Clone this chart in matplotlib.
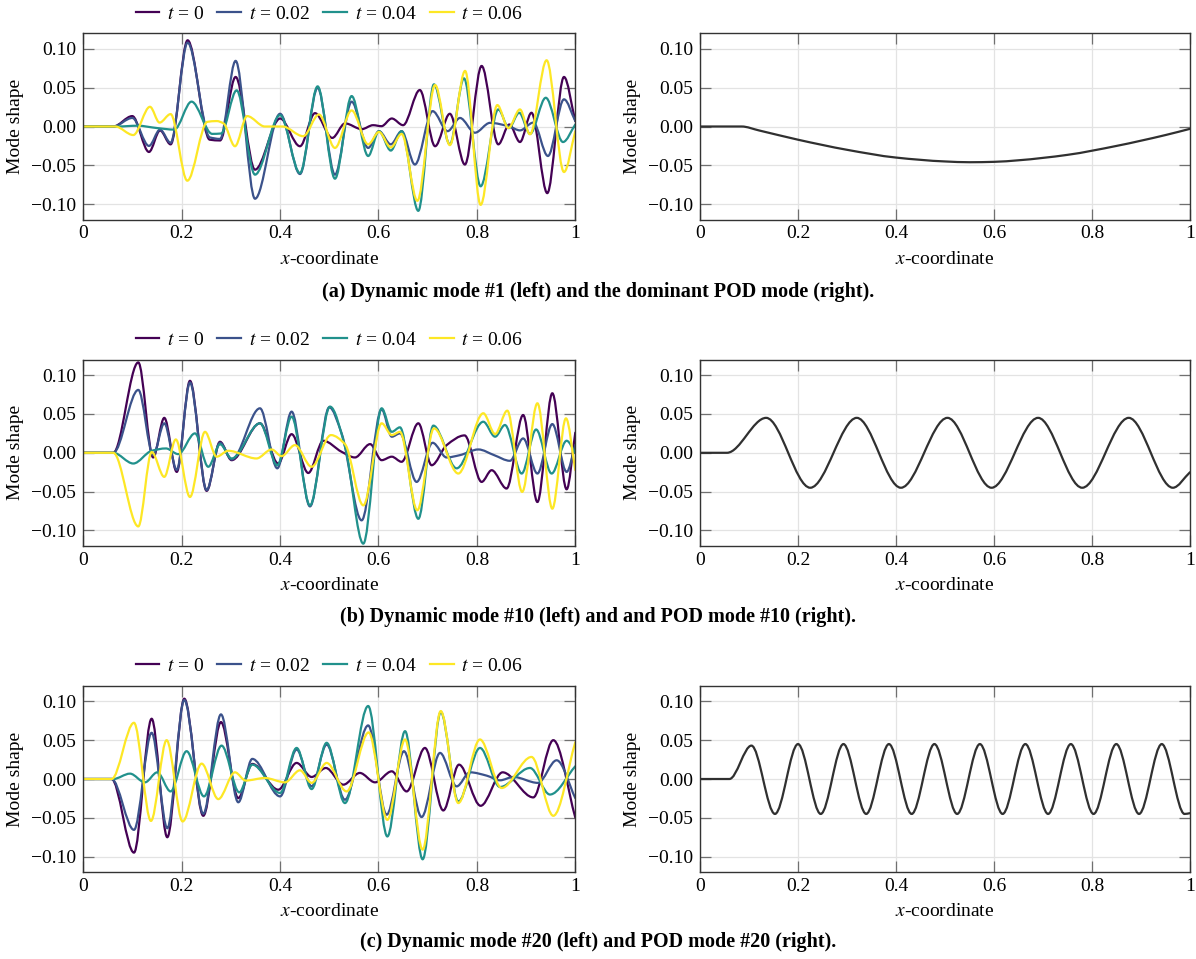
import numpy as np
import matplotlib
matplotlib.use('Agg')
import matplotlib.pyplot as plt
from matplotlib.path import Path
from matplotlib.patches import PathPatch
from matplotlib.lines import Line2D

# ---- data (local extrema / shape points) ----
labels = ["$t$ = 0", "$t$ = 0.02", "$t$ = 0.04", "$t$ = 0.06"]
colors = ["#440154", "#3b528b", "#21918c", "#fde725"]

# (a) dynamic mode #1
a_t0_x = [0, 0.061, 0.0996, 0.1335, 0.156, 0.1775, 0.212, 0.257, 0.278, 0.3096, 0.349, 0.400, 0.4404, 0.4709, 0.506, 0.532, 0.566, 0.589, 0.606, 0.627, 0.650, 0.684, 0.715, 0.745, 0.7756, 0.8096, 0.8435, 0.866, 0.8875, 0.911, 0.943, 0.977, 1.0]
a_t0_y = [0, 0, 0.0134, -0.0328, -0.005, -0.023, 0.111, -0.017, -0.018, 0.0638, -0.0556, 0.0103, -0.0254, 0.0172, -0.0147, 0.004, -0.0034, 0.0017, 0.0004, 0.0103, 0.0017, 0.047, -0.0254, 0.0164, -0.049, 0.078, -0.023, 0.0026, -0.020, 0.0177, -0.0858, 0.0638, 0.007]
a_t1_x = [0, 0.061, 0.0996, 0.1335, 0.156, 0.1775, 0.212, 0.257, 0.278, 0.3096, 0.349, 0.400, 0.4404, 0.4763, 0.5115, 0.5454, 0.579, 0.601, 0.625, 0.647, 0.674, 0.710, 0.7405, 0.7656, 0.796, 0.8266, 0.866, 0.8875, 0.9146, 0.9444, 0.977, 1.0]
a_t1_y = [0, 0, 0.011, -0.025, -0.004, -0.021, 0.108, -0.014, -0.016, 0.0845, -0.093, 0.0164, -0.0612, 0.050, -0.062, 0.032, -0.0276, -0.006, -0.023, -0.006, -0.049, 0.0198, -0.006, 0.011, -0.008, 0.0047, 0.0, -0.005, 0.005, -0.038, 0.035, 0.007]
a_t2_x = [0, 0.07, 0.11, 0.15, 0.185, 0.22, 0.262, 0.28, 0.3117, 0.349, 0.400, 0.4404, 0.4763, 0.5115, 0.5454, 0.579, 0.601, 0.625, 0.647, 0.6809, 0.7127, 0.745, 0.7737, 0.8076, 0.8435, 0.865, 0.886, 0.9079, 0.94, 0.975, 1.0]
a_t2_y = [0, 0, 0.001, -0.002, -0.004, 0.032, -0.0095, -0.009, 0.0466, -0.062, 0.0147, -0.060, 0.0517, -0.0672, 0.0392, -0.038, -0.006, -0.031, -0.006, -0.1086, 0.0543, -0.023, 0.062, -0.077, 0.022, -0.002, 0.0177, -0.0095, 0.037, -0.020, 0.0026]
a_t3_x = [0, 0.065, 0.1016, 0.1355, 0.155, 0.1775, 0.2114, 0.252, 0.271, 0.285, 0.3083, 0.333, 0.369, 0.405, 0.447, 0.479, 0.5115, 0.5454, 0.579, 0.601, 0.625, 0.647, 0.679, 0.715, 0.745, 0.776, 0.8076, 0.8415, 0.864, 0.8875, 0.9079, 0.9417, 0.977, 1.0]
a_t3_y = [0, 0, -0.011, 0.0254, 0.005, 0.016, -0.0698, 0.006, 0.007, 0.004, -0.0254, 0.0134, 0.0, 0.0, -0.0125, 0.0155, -0.0276, 0.0207, -0.023, -0.007, -0.027, -0.0095, -0.0957, 0.0534, -0.024, 0.0716, -0.1009, 0.0276, -0.002, 0.022, -0.010, 0.0853, -0.0586, -0.006]

# (b) dynamic mode #10
b_t0_x = [0, 0.061, 0.1118, 0.142, 0.1646, 0.19, 0.2168, 0.2507, 0.2778, 0.3015, 0.3591, 0.396, 0.4234, 0.4573, 0.4878, 0.525, 0.5521, 0.583, 0.6064, 0.627, 0.647, 0.681, 0.708, 0.7385, 0.775, 0.8096, 0.83, 0.8604, 0.894, 0.923, 0.9533, 0.9824, 1.0]
b_t0_y = [0, 0, 0.1164, -0.006, 0.045, -0.0246, 0.0927, -0.049, 0.0142, -0.0095, 0.038, -0.0138, 0.024, -0.026, 0.0155, 0.0013, -0.006, 0.0112, -0.0095, -0.005, -0.0116, 0.038, -0.016, 0.0099, 0.0224, -0.0375, -0.0224, -0.046, 0.0487, -0.0634, 0.0767, -0.047, 0.026]
b_t1_x = [0, 0.061, 0.1118, 0.142, 0.1646, 0.19, 0.2168, 0.2507, 0.2778, 0.3015, 0.3591, 0.3943, 0.4234, 0.4607, 0.5, 0.525, 0.5657, 0.6064, 0.627, 0.6436, 0.6775, 0.71, 0.7385, 0.7656, 0.803, 0.835, 0.8672, 0.894, 0.923, 0.9533, 0.9824, 1.0]
b_t1_y = [0, 0, 0.081, -0.003, 0.038, -0.022, 0.0905, -0.048, 0.013, -0.0086, 0.0573, -0.020, 0.053, -0.069, 0.0586, 0.025, -0.087, 0.056, 0.0207, 0.025, -0.0375, 0.0129, -0.006, -0.003, 0.0043, -0.003, -0.0103, 0.0185, -0.0267, 0.037, -0.0246, 0.0099]
b_t2_x = [0, 0.061, 0.1016, 0.139, 0.168, 0.193, 0.227, 0.254, 0.278, 0.3015, 0.3591, 0.3943, 0.4234, 0.4607, 0.5014, 0.532, 0.5691, 0.6064, 0.627, 0.6436, 0.681, 0.7114, 0.7588, 0.813, 0.837, 0.857, 0.891, 0.9203, 0.9519, 0.9824, 1.0]
b_t2_y = [0, 0, -0.0138, 0.0026, 0.0056, -0.0017, 0.025, -0.018, 0.011, -0.0073, 0.038, -0.016, 0.0466, -0.0677, 0.0595, 0.008, -0.117, 0.0573, 0.027, 0.0328, -0.085, 0.035, -0.020, 0.040, 0.0207, 0.0358, -0.0267, 0.030, -0.0267, 0.0155, 0.0]
b_t3_x = [0, 0.061, 0.1118, 0.139, 0.1646, 0.188, 0.2168, 0.2473, 0.271, 0.2947, 0.352, 0.3828, 0.403, 0.4302, 0.4641, 0.5034, 0.532, 0.5691, 0.6064, 0.627, 0.6436, 0.6789, 0.7127, 0.7622, 0.813, 0.837, 0.8618, 0.892, 0.923, 0.9533, 0.981, 1.0]
b_t3_y = [0, 0, -0.0948, 0.001, -0.031, 0.0172, -0.0569, 0.027, -0.005, 0.0026, -0.0073, 0.0043, -0.0043, 0.0099, -0.018, 0.0228, 0.011, -0.0677, 0.038, 0.0228, 0.027, -0.074, 0.0315, -0.0267, 0.0509, 0.0241, 0.0543, -0.0504, 0.0638, -0.072, 0.0444, -0.0224]

# (c) dynamic mode #20
c_t0_x = [0, 0.0576, 0.103, 0.1389, 0.1707, 0.2053, 0.2439, 0.2798, 0.315, 0.3435, 0.3963, 0.4336, 0.4641, 0.493, 0.5285, 0.562, 0.593, 0.627, 0.6572, 0.6944, 0.7317, 0.7636, 0.8076, 0.8523, 0.9146, 0.9553, 1.0]
c_t0_y = [0, 0, -0.0948, 0.0776, -0.075, 0.1034, -0.0474, 0.0733, -0.0246, 0.0194, -0.0138, 0.0207, 0.0026, 0.0142, -0.0073, 0.0078, -0.0043, 0.0099, -0.016, 0.040, -0.0405, 0.0185, -0.0345, 0.0086, -0.0237, 0.050, -0.0496]
c_t1_x = [0, 0.0576, 0.103, 0.1389, 0.1707, 0.2053, 0.2439, 0.2798, 0.315, 0.3435, 0.4, 0.4336, 0.4641, 0.4946, 0.5318, 0.579, 0.6166, 0.6518, 0.6876, 0.725, 0.7588, 0.7859, 0.82, 0.847, 0.874, 0.924, 0.9621, 1.0]
c_t1_y = [0, 0, -0.0655, 0.0595, -0.0634, 0.1017, -0.0448, 0.0832, -0.030, 0.0259, -0.0224, 0.038, -0.0095, 0.0444, -0.0267, 0.069, -0.046, 0.0358, -0.049, 0.0336, -0.0095, 0.0086, 0.0043, -0.0017, 0.0026, -0.005, 0.0241, -0.0246]
c_t2_x = [0, 0.061, 0.0949, 0.1253, 0.1504, 0.1775, 0.21, 0.2453, 0.281, 0.317, 0.3435, 0.4, 0.4336, 0.4641, 0.4946, 0.5318, 0.579, 0.618, 0.654, 0.6897, 0.7266, 0.7622, 0.8062, 0.847, 0.9079, 0.9485, 1.0]
c_t2_y = [0, 0, 0.0069, -0.0043, 0.0086, -0.016, 0.0358, -0.0224, 0.043, -0.0172, 0.0185, -0.018, 0.040, -0.013, 0.0466, -0.031, 0.094, -0.074, 0.0616, -0.1034, 0.0862, -0.029, 0.040, -0.0103, 0.0142, -0.020, 0.0164]
c_t3_x = [0, 0.0576, 0.103, 0.1375, 0.1694, 0.2019, 0.2405, 0.2744, 0.3083, 0.33, 0.3692, 0.4099, 0.4404, 0.4641, 0.4946, 0.5352, 0.58, 0.618, 0.654, 0.6897, 0.7266, 0.7622, 0.8062, 0.8503, 0.911, 0.9553, 1.0]
c_t3_y = [0, 0, 0.0724, -0.054, 0.050, -0.0547, 0.0198, -0.0259, 0.0086, -0.002, 0.0013, -0.0043, 0.0112, -0.005, 0.0207, -0.016, 0.060, -0.0526, 0.0509, -0.091, 0.0875, -0.031, 0.0509, -0.0116, 0.0284, -0.0474, 0.0474]

# POD modes (right column)
pod_a_x = [0, 0.05, 0.085, 0.12, 0.2, 0.3, 0.4, 0.5, 0.55, 0.6, 0.65, 0.75, 0.85, 0.95, 1.0]
pod_a_y = [0, 0, 0, -0.005, -0.017, -0.030, -0.040, -0.045, -0.046, -0.0455, -0.0435, -0.0365, -0.025, -0.011, -0.003]
pod_b_x = [0, 0.055, 0.135, 0.225, 0.32, 0.41, 0.505, 0.595, 0.69, 0.78, 0.875, 0.965, 1.0]
pod_b_y = [0, 0, 0.045, -0.045, 0.045, -0.045, 0.045, -0.045, 0.045, -0.045, 0.045, -0.045, -0.025]
pod_c_x = [0, 0.06, 0.105, 0.153, 0.2, 0.2464, 0.2928, 0.3392, 0.3856, 0.432, 0.4784, 0.5248, 0.5712, 0.6176, 0.664, 0.7104, 0.7568, 0.8032, 0.8496, 0.896, 0.9424, 0.9888, 1.0]
pod_c_y = [0, 0, 0.043, -0.045, 0.045, -0.045, 0.045, -0.045, 0.045, -0.045, 0.045, -0.045, 0.045, -0.045, 0.045, -0.045, 0.045, -0.045, 0.045, -0.045, 0.045, -0.045, -0.044]

captions = ["(a) Dynamic mode #1 (left) and the dominant POD mode (right).",
            "(b) Dynamic mode #10 (left) and and POD mode #10 (right).",
            "(c) Dynamic mode #20 (left) and POD mode #20 (right)."]

xticks = [0, 0.2, 0.4, 0.6, 0.8, 1]
xtick_labels = ["0", "0.2", "0.4", "0.6", "0.8", "1"]
yticks = [-0.10, -0.05, 0.0, 0.05, 0.10]
ytick_labels = ["\u22120.10", "\u22120.05", "0.00", "0.05", "0.10"]

plt.rcParams['font.family'] = ['Liberation Serif', 'DejaVu Serif']
plt.rcParams['mathtext.fontset'] = 'stix'


def smooth_path(xs, ys):
    # cubic Hermite (monotone tangents) drawn as Bezier segments
    x = np.asarray(xs, float)
    y = np.asarray(ys, float)
    h = np.diff(x)
    d = np.diff(y) / h
    m = np.zeros_like(x)
    for i in range(1, len(x) - 1):
        if d[i - 1] * d[i] > 0:
            w1 = 2 * h[i] + h[i - 1]
            w2 = h[i] + 2 * h[i - 1]
            m[i] = (w1 + w2) / (w1 / d[i - 1] + w2 / d[i])
    m[-1] = d[-1]
    verts = [(x[0], y[0])]
    codes = [Path.MOVETO]
    for i in range(len(h)):
        verts += [(x[i] + h[i] / 3, y[i] + m[i] * h[i] / 3),
                  (x[i + 1] - h[i] / 3, y[i + 1] - m[i + 1] * h[i] / 3),
                  (x[i + 1], y[i + 1])]
        codes += [Path.CURVE4] * 3
    return Path(verts, codes)


def style(ax):
    ax.set_xlim(0, 1)
    ax.set_ylim(-0.12, 0.12)
    ax.set_xticks(xticks)
    ax.set_xticklabels(xtick_labels)
    ax.set_yticks(yticks)
    ax.set_yticklabels(ytick_labels)
    ax.grid(True, color='#e3e3e3', lw=0.9)
    ax.set_axisbelow(True)
    ax.tick_params(direction='in', length=8, width=0.9, color='#707070',
                   top=True, right=True, labelsize=14)
    ax.tick_params(axis='x', pad=4)
    ax.tick_params(axis='y', pad=5)
    for s in ax.spines.values():
        s.set_color('#333333')
        s.set_linewidth(1.0)
    ax.set_xlabel('$x$-coordinate', fontsize=14, labelpad=6)
    ax.set_ylabel('Mode shape', fontsize=14, labelpad=5)


W, H = 1196, 959
fig = plt.figure(figsize=(W / 100, H / 100), dpi=100)

rows = [
    ([(a_t0_x, a_t0_y), (a_t1_x, a_t1_y), (a_t2_x, a_t2_y), (a_t3_x, a_t3_y)], (pod_a_x, pod_a_y), 219.7, 292),
    ([(b_t0_x, b_t0_y), (b_t1_x, b_t1_y), (b_t2_x, b_t2_y), (b_t3_x, b_t3_y)], (pod_b_x, pod_b_y), 546.0, 617),
    ([(c_t0_x, c_t0_y), (c_t1_x, c_t1_y), (c_t2_x, c_t2_y), (c_t3_x, c_t3_y)], (pod_c_x, pod_c_y), 872.2, 942),
]

ax_h = 186.4
for k, (dmd, pod, bottom_px, cap_px) in enumerate(rows):
    axl = fig.add_axes([83.3 / W, 1 - bottom_px / H, 492 / W, ax_h / H])
    axr = fig.add_axes([700 / W, 1 - bottom_px / H, 490 / W, ax_h / H])
    style(axl)
    style(axr)
    for (xs, ys), c in zip(dmd, colors):
        axl.add_patch(PathPatch(smooth_path(xs, ys), fill=False, edgecolor=c,
                                lw=1.6, joinstyle='round', capstyle='round'))
    axr.add_patch(PathPatch(smooth_path(*pod), fill=False, edgecolor='#303030',
                            lw=1.6, joinstyle='round', capstyle='round'))
    handles = [Line2D([], [], color=c, lw=1.6) for c in colors]
    axl.legend(handles, labels, loc='lower center', bbox_to_anchor=(0.5, 1.0),
               ncol=4, frameon=False, fontsize=14, handlelength=1.2,
               handletextpad=0.4, columnspacing=0.7, borderaxespad=0.15)
    fig.text(0.5, 1 - cap_px / H, captions[k], ha='center', va='center',
             fontsize=14.5, fontweight='bold')

fig.savefig('out.png', dpi=100)
